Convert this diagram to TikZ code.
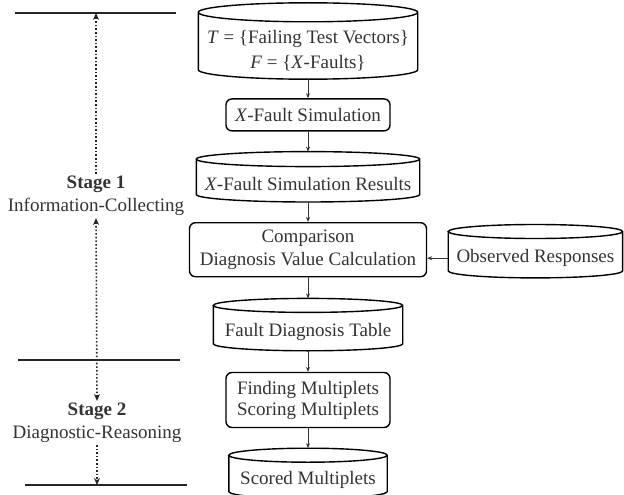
\documentclass[tikz,border=0pt]{standalone}
\usepackage{fontspec}
\setmainfont{Liberation Serif}
\usetikzlibrary{arrows.meta, positioning, calc}

% outline of a data store round the body node #2, cap radius #1
\newcommand{\storeoutline}[2][7pt]{%
  \draw[storeline] let \p1=(#2.north west), \p2=(#2.south east), \n1={(\x2-\x1)/2} in
    ({\x1},{\y1+#1}) -- ({\x1},{\y2+#1})
    arc[start angle=180, end angle=360, x radius={\n1*1pt}, y radius=#1]
    -- ({\x2},{\y1+#1})
    arc[start angle=0, end angle=360, x radius={\n1*1pt}, y radius=#1];
  \coordinate (#2-top) at ([yshift=2*#1]#2.north);
}

\begin{document}
\begin{tikzpicture}[
        x=1pt, y=-1pt,
        font=\fontsize{19}{23}\selectfont,
        every node/.style={text=black!80},
        box/.style={draw, rounded corners=6pt, line width=1.4pt, align=center, inner sep=0pt},
        store/.style={align=center, inner sep=0pt},
        storeline/.style={line width=1.4pt},
        arr/.style={-{Stealth[length=5pt, width=4pt]}, line width=0.7pt, black!80},
        dotarr/.style={-{Stealth[length=7pt, width=6pt]}, dotted, line width=1.6pt, black!85},
        bar/.style={line width=1.8pt, black!85}
        ]
        \useasboundingbox (0,0) rectangle (624,495);
        % main column
        \node[store, minimum width=219pt, minimum height=57pt] (tv) at (308,50.5)
            {\textit{T} = \{Failing Test Vectors\}\\[2pt] \textit{F} = \{\textit{X}-Faults\}};
        \node[box, minimum width=164pt, minimum height=32pt, below=19pt of tv] (sim) {\textit{X}-Fault Simulation};
        \node[store, minimum width=223pt, minimum height=35pt, below=35pt of sim] (res) {\textit{X}-Fault Simulation Results};
        \node[box, minimum width=237pt, minimum height=54pt, below=20pt of res] (cmp) {Comparison\\ Diagnosis Value Calculation};
        \node[store, minimum width=174pt, minimum height=39pt, right=21pt of cmp, yshift=-8.5pt] (obs) {Observed Responses};
        \node[store, minimum width=189pt, minimum height=38pt, below=35pt of cmp] (tab) {Fault Diagnosis Table};
        \node[box, minimum width=164pt, minimum height=55pt, below=21pt of tab] (mul) {Finding Multiplets\\[-2pt] Scoring Multiplets};
        \node[store, minimum width=158pt, minimum height=36pt, below=34pt of mul] (sco) {Scored Multiplets};
        \storeoutline[9.5pt]{tv}
        \storeoutline[7.5pt]{res}
        \storeoutline{obs}
        \storeoutline{tab}
        \storeoutline{sco}
        \draw[arr] (tv) -- (sim);
        \draw[arr] (sim) -- (res-top);
        \draw[arr] (res) -- (cmp);
        \draw[arr] (obs.west) -- (cmp.east |- obs.west);
        \draw[arr] (cmp) -- (tab-top);
        \draw[arr] (tab) -- (mul);
        \draw[arr] (mul) -- (sco-top);
        % stages
        \coordinate (l1a) at (15,13);   \coordinate (l1b) at (176,13);
        \coordinate (l2a) at (18,360);  \coordinate (l2b) at (180,360);
        \coordinate (l3a) at (25,485);  \coordinate (l3b) at (187,485);
        \draw[bar] (l1a) -- (l1b);
        \draw[bar] (l2a) -- (l2b);
        \draw[bar] (l3a) -- (l3b);
        \node[align=center, inner sep=2pt] (st1) at (96,196) {\textbf{Stage 1}\\ Information-Collecting};
        \node[align=center, inner sep=2pt] (st2) at (97,423) {\textbf{Stage 2}\\ Diagnostic-Reasoning};
        \draw[dotarr] (st1.north) -- (st1.north |- l1a);
        \draw[dotarr, {Stealth[length=7pt, width=6pt]}-{Stealth[length=7pt, width=6pt]}] (st1.south) -- (st2.north);
        \draw[dotarr] (st2.south) -- (st2.south |- l3a);
\end{tikzpicture}
\end{document}
